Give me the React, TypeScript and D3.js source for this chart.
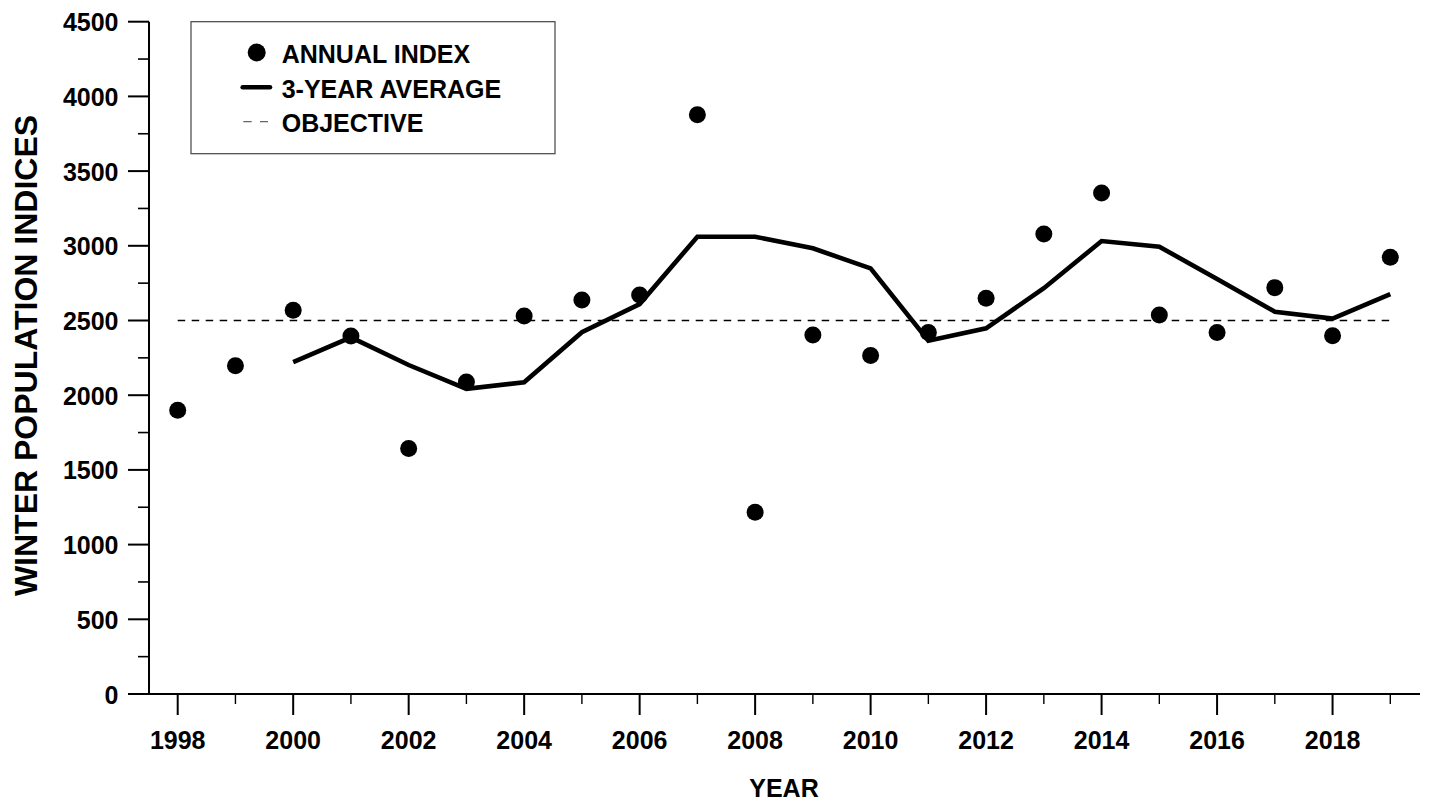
import React from "react";
import * as d3 from "d3";

// Survey years and annual winter population indices
const years = [
  1998, 1999, 2000, 2001, 2002, 2003, 2004, 2005, 2006, 2007, 2008,
  2009, 2010, 2011, 2012, 2013, 2014, 2015, 2016, 2017, 2018, 2019,
];
const annualIndex = [
  1900, 2197, 2568, 2396, 1643, 2088, 2530, 2637, 2671, 3877, 1216,
  2403, 2265, 2419, 2649, 3079, 3353, 2537, 2419, 2720, 2398, 2923,
];

// Three-year running average (first value available in 2000)
const avgYears = [
  2000, 2001, 2002, 2003, 2004, 2005, 2006, 2007, 2008, 2009,
  2010, 2011, 2012, 2013, 2014, 2015, 2016, 2017, 2018, 2019,
];
const threeYearAverage = [
  2222, 2387, 2202, 2043, 2086, 2421, 2610, 3061, 3061, 2983,
  2849, 2365, 2448, 2716, 3032, 2994, 2778, 2559, 2513, 2677,
];

// Population objective
const objectiveYears = [1998, 2019];
const objectiveValue = 2500;

// Axis ticks
const xMajorTicks = [1998, 2000, 2002, 2004, 2006, 2008, 2010, 2012, 2014, 2016, 2018];
const xMinorTicks = [1999, 2001, 2003, 2005, 2007, 2009, 2011, 2013, 2015, 2017, 2019];
const yMajorTicks = [0, 500, 1000, 1500, 2000, 2500, 3000, 3500, 4000, 4500];
const yMinorTicks = [250, 750, 1250, 1750, 2250, 2750, 3250, 3750, 4250];

const legendItems = ["ANNUAL INDEX", "3-YEAR AVERAGE", "OBJECTIVE"];

const W = 1429;
const H = 802;
const FONT = "'Liberation Sans', Arial, Helvetica, sans-serif";

export default function App() {
  const axisX = 149;
  const axisY = 694;
  const axisRight = 1420;

  const x = d3.scaleLinear().domain([1998, 2019]).range([177.7, 1390.3]);
  const y = d3.scaleLinear().domain([0, 4500]).range([axisY, 21.7]);

  const avgLine = d3
    .line<number>()
    .x((_, i) => x(avgYears[i]))
    .y((d) => y(d))(threeYearAverage);

  const legend = { x: 191, y: 21.7, w: 364, h: 132 };
  const rowY = [52.5, 87.3, 121.7];
  const textX = 281.7;

  return (
    <svg
      width={W}
      height={H}
      viewBox={`0 0 ${W} ${H}`}
      style={{ position: "absolute", left: 0, top: 0, background: "#fff" }}
      fontFamily={FONT}
      fontWeight={700}
    >
      <rect x={0} y={0} width={W} height={H} fill="#fff" />

      {/* objective */}
      <line
        x1={x(objectiveYears[0])}
        x2={x(objectiveYears[1])}
        y1={y(objectiveValue)}
        y2={y(objectiveValue)}
        stroke="#000"
        strokeWidth={1.3}
        strokeDasharray="7.5,6.5"
      />

      {/* 3-year average */}
      <path d={avgLine ?? ""} fill="none" stroke="#000" strokeWidth={4.6} />

      {/* annual index points */}
      {years.map((yr, i) => (
        <circle key={yr} cx={x(yr)} cy={y(annualIndex[i])} r={8.5} fill="#000" />
      ))}

      {/* y axis */}
      <line x1={axisX} x2={axisX} y1={y(4500)} y2={axisY + 1} stroke="#000" strokeWidth={2} />
      {yMajorTicks.map((t) => (
        <g key={t}>
          <line x1={axisX - 21} x2={axisX} y1={y(t)} y2={y(t)} stroke="#000" strokeWidth={2} />
          <text x={118.5} y={y(t) + 9.5} textAnchor="end" fontSize={25} fill="#000">
            {t}
          </text>
        </g>
      ))}
      {yMinorTicks.map((t) => (
        <line key={t} x1={axisX - 11} x2={axisX} y1={y(t)} y2={y(t)} stroke="#000" strokeWidth={1.6} />
      ))}

      {/* x axis */}
      <line x1={axisX - 1} x2={axisRight} y1={axisY} y2={axisY} stroke="#000" strokeWidth={2} />
      {xMajorTicks.map((t) => (
        <g key={t}>
          <line x1={x(t)} x2={x(t)} y1={axisY} y2={axisY + 21} stroke="#000" strokeWidth={2} />
          <text x={x(t)} y={748.5} textAnchor="middle" fontSize={25} fill="#000">
            {t}
          </text>
        </g>
      ))}
      {xMinorTicks.map((t) => (
        <line key={t} x1={x(t)} x2={x(t)} y1={axisY} y2={axisY + 10} stroke="#000" strokeWidth={1.4} />
      ))}

      {/* axis titles */}
      <text x={784} y={796.5} textAnchor="middle" fontSize={25} fill="#000">
        YEAR
      </text>
      <text
        transform={`translate(36.5, 355.5) rotate(-90)`}
        textAnchor="middle"
        fontSize={32}
        fill="#000"
      >
        WINTER POPULATION INDICES
      </text>

      {/* legend */}
      <rect
        x={legend.x}
        y={legend.y}
        width={legend.w}
        height={legend.h}
        fill="#fff"
        stroke="#444"
        strokeWidth={1.2}
      />
      <circle cx={256.7} cy={rowY[0]} r={9} fill="#000" />
      <line x1={242.7} x2={270} y1={rowY[1]} y2={rowY[1]} stroke="#000" strokeWidth={4.6} strokeLinecap="round" />
      <line
        x1={243.3}
        x2={268}
        y1={rowY[2]}
        y2={rowY[2]}
        stroke="#666"
        strokeWidth={1.2}
        strokeDasharray="8.4,8.3"
      />
      {legendItems.map((label, i) => (
        <text key={label} x={textX} y={rowY[i] + 10.5} fontSize={25} fill="#000">
          {label}
        </text>
      ))}
    </svg>
  );
}
